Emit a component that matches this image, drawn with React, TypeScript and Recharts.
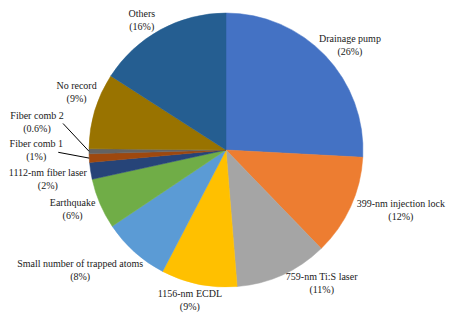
import React from "react";
import { PieChart, Pie, Cell } from "recharts";

const categories = [
  "Drainage pump",
  "399-nm injection lock",
  "759-nm Ti:S laser",
  "1156-nm ECDL",
  "Small number of trapped atoms",
  "Earthquake",
  "1112-nm fiber laser",
  "Fiber comb 1",
  "Fiber comb 2",
  "No record",
  "Others",
];
const values = [26, 12, 11, 9, 8, 6, 2, 1, 0.6, 9, 16];
const percentLabels = ["(26%)", "(12%)", "(11%)", "(9%)", "(8%)", "(6%)", "(2%)", "(1%)", "(0.6%)", "(9%)", "(16%)"];
const colors = [
  "#4472C4", "#ED7D31", "#A5A5A5", "#FFC000", "#5B9BD5", "#70AD47",
  "#264478", "#9E480E", "#636363", "#997300", "#255E91",
];

// label layout offsets (style): shift from anchor point outside the slice
const labelShift: [number, number][] = [
  [10, 3], [32, -5], [31, -10], [-5, -4], [-41, 3], [-9, -3],
  [-23, 5], [-33, -9], [-32, -29], [1, -13], [-9, 8],
];
const leaderStart: ([number, number] | null)[] = [
  null, null, null, null, null, null, null, [22, 2], [26, 1], null, null,
];

const data = categories.map((name, i) => ({ name, value: values[i], pct: percentLabels[i] }));

const RAD = Math.PI / 180;
const FONT = "Liberation Serif";

const renderLabel = (props: any) => {
  const { cx, cy, midAngle, outerRadius, index } = props;
  const r = outerRadius + 20;
  const ax = cx + r * Math.cos(-midAngle * RAD);
  const ay = cy + r * Math.sin(-midAngle * RAD);
  const [dx, dy] = labelShift[index];
  const x = ax + dx;
  const y = ay + dy;
  const ls = leaderStart[index];
  let line = null;
  if (ls) {
    const ex = cx + outerRadius * Math.cos(-midAngle * RAD);
    const ey = cy + outerRadius * Math.sin(-midAngle * RAD);
    line = <line x1={x + ls[0]} y1={y + ls[1]} x2={ex} y2={ey} stroke="#000" strokeWidth={1} />;
  }
  return (
    <g key={`lbl-${index}`}>
      {line}
      <text
        x={x}
        y={y + 3.5}
        textAnchor="middle"
        fontFamily={FONT}
        fontSize={10}
        fill="#1a1a1a"
      >
        <tspan x={x} dy={-6.5}>{categories[index]}</tspan>
        <tspan x={x} dy={13}>{percentLabels[index]}</tspan>
      </text>
    </g>
  );
};

export default function App() {
  return (
    <div style={{ position: "absolute", left: 0, top: 0, width: 453, height: 317, background: "#fff", fontFamily: FONT }}>
      <PieChart width={453} height={317} margin={{ top: 0, right: 0, bottom: 0, left: 0 }}>
        <Pie
          data={data}
          dataKey="value"
          nameKey="name"
          cx={226}
          cy={150}
          outerRadius={137}
          startAngle={90}
          endAngle={-270}
          stroke="none"
          strokeWidth={0}
          isAnimationActive={false}
          labelLine={false}
          label={renderLabel}
        >
          {data.map((d, i) => (
            <Cell key={d.name} fill={colors[i]} stroke={colors[i]} strokeWidth={0.5} />
          ))}
        </Pie>
      </PieChart>
    </div>
  );
}
